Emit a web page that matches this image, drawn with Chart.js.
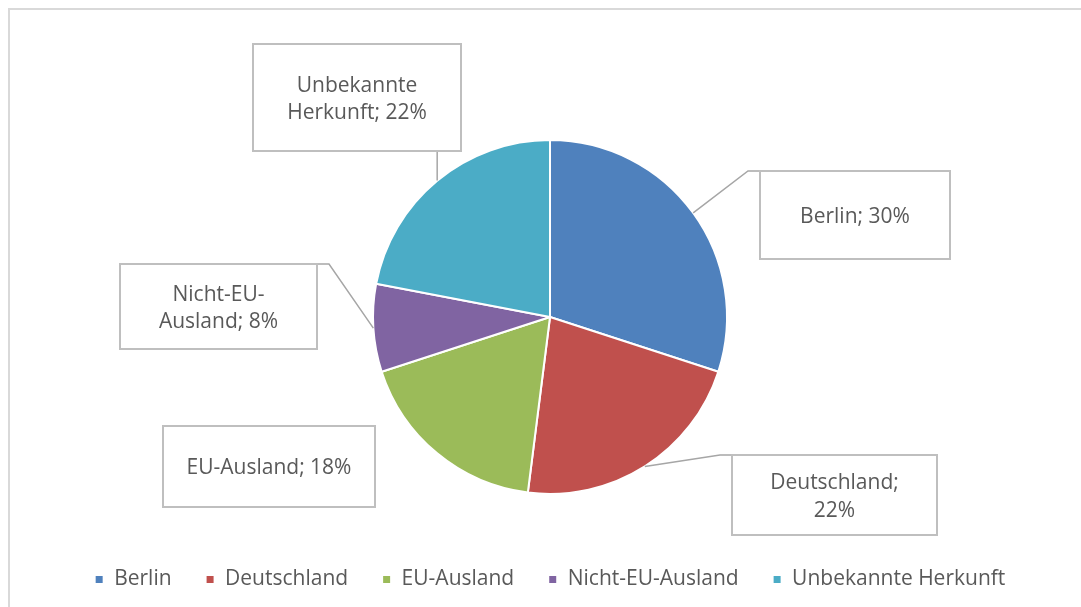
<!DOCTYPE html>
<html>
<head>
<meta charset="utf-8">
<script src="https://cdn.jsdelivr.net/npm/chart.js@4"></script>
<style>
  html, body { margin: 0; padding: 0; background: #ffffff; }
  body { width: 1081px; height: 607px; position: relative; overflow: hidden; }
  #frame { position: absolute; left: 8px; top: 8px; width: 1100px; height: 620px; border: 2px solid #d9d9d9; box-sizing: border-box; }
  #wrap { position: absolute; left: 0; top: 0; width: 1081px; height: 607px; }
</style>
</head>
<body>
<div id="frame"></div>
<div id="wrap"><canvas id="c" width="1081" height="607"></canvas></div>
<script>
// ---- data ----
const categories = ["Berlin", "Deutschland", "EU-Ausland", "Nicht-EU-Ausland", "Unbekannte Herkunft"];
const shares = [30, 22, 18, 8, 22];
const colors = ["#4f81bd", "#c0504d", "#9bbb59", "#8064a2", "#4bacc6"];
// wrapped data-label text, as in the original boxes
const labelLines = [
  ["Berlin; 30%"],
  ["Deutschland;", "22%"],
  ["EU-Ausland; 18%"],
  ["Nicht-EU-", "Ausland; 8%"],
  ["Unbekannte", "Herkunft; 22%"]
];

// label box layout: offsets of box centre from pie centre, sizes, leader style
const boxLayout = [
  { dx: 305, dy: -102, w: 190, h: 88, leader: "left" },
  { dx: 284.5, dy: 178, w: 205, h: 80, leader: "left" },
  { dx: -281, dy: 149.5, w: 212, h: 81, leader: "none" },
  { dx: -331.5, dy: -10.5, w: 197, h: 85, leader: "right" },
  { dx: -193, dy: -219.5, w: 208, h: 107, leader: "down" }
];

const FONT = '"Open Sans", "Noto Sans", sans-serif';

const labelPlugin = {
  id: 'boxLabels',
  afterDatasetsDraw(chart) {
    const ctx = chart.ctx;
    const meta = chart.getDatasetMeta(0);
    ctx.save();
    meta.data.forEach((arc, i) => {
      const p = arc.getProps(['x', 'y', 'startAngle', 'endAngle', 'outerRadius'], true);
      const mid = (p.startAngle + p.endAngle) / 2;
      const ax = p.x + Math.cos(mid) * p.outerRadius;
      const ay = p.y + Math.sin(mid) * p.outerRadius;
      const L = boxLayout[i];
      const left = p.x + L.dx - L.w / 2;
      const top = p.y + L.dy - L.h / 2;
      const right = left + L.w;
      const bottom = top + L.h;
      // leader
      ctx.strokeStyle = '#a6a6a6';
      ctx.lineWidth = 1.5;
      ctx.beginPath();
      if (L.leader === 'left') {
        ctx.moveTo(ax, ay); ctx.lineTo(left - 12, top); ctx.lineTo(left, top); ctx.stroke();
      } else if (L.leader === 'right') {
        ctx.moveTo(ax, ay); ctx.lineTo(right + 12, top); ctx.lineTo(right, top); ctx.stroke();
      } else if (L.leader === 'down') {
        ctx.moveTo(ax, ay); ctx.lineTo(ax, bottom); ctx.stroke();
      }
      // box
      ctx.fillStyle = '#ffffff';
      ctx.fillRect(left, top, L.w, L.h);
      ctx.strokeStyle = '#bfbfbf';
      ctx.lineWidth = 2;
      ctx.strokeRect(left, top, L.w, L.h);
      // text
      ctx.fillStyle = '#595959';
      ctx.font = '21px ' + FONT;
      ctx.textAlign = 'center';
      ctx.textBaseline = 'middle';
      const lines = labelLines[i];
      const lh = 27.5;
      const cy = (top + bottom) / 2 + 2;
      lines.forEach((t, k) => {
        ctx.fillText(t, (left + right) / 2, cy + (k - (lines.length - 1) / 2) * lh);
      });
    });
    ctx.restore();
  }
};

new Chart(document.getElementById('c'), {
  type: 'pie',
  data: {
    labels: categories,
    datasets: [{
      data: shares,
      backgroundColor: colors,
      borderColor: '#ffffff',
      borderWidth: 2,
      radius: 177
    }]
  },
  options: {
    responsive: false,
    animation: false,
    layout: { padding: { left: 19, right: 0, top: 99, bottom: 7 } },
    plugins: {
      tooltip: { enabled: false },
      legend: {
        position: 'bottom',
        labels: {
          boxWidth: 9,
          boxHeight: 9,
          padding: 34,
          color: '#595959',
          font: { family: FONT, size: 21 }
        }
      }
    }
  },
  plugins: [labelPlugin]
});
</script>
</body>
</html>
